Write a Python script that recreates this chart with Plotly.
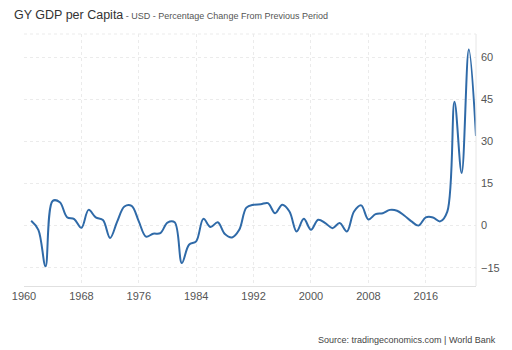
import plotly.graph_objects as go

years = list(range(1961, 2024))
values = [1.7, -1.5, -14.5, 8.8, 8.3, 3.0, 2.3, -0.8, 5.6, 2.9,
          2.0, -4.4, 1.5, 6.8, 7.0, 1.5, -3.9, -2.9, -2.7, 1.1,
          1.2, -13.3, -6.8, -5.6, 2.4, -0.5, 1.2, -3.0, -4.2, -1.5,
          6.4, 7.4, 7.6, 8.0, 4.4, 7.4, 5.0, -2.1, 2.4, -1.5,
          2.1, 0.9, -0.9, 0.9, -2.1, 5.0, 7.2, 2.2, 4.1, 4.4,
          5.6, 5.3, 3.6, 1.5, 0.0, 2.9, 2.9, 1.5, 5.0, 44.1,
          18.7, 62.7, 31.9]
x_ticks = [1960, 1968, 1976, 1984, 1992, 2000, 2008, 2016]
y_ticks = [-15, 0, 15, 30, 45, 60]

fig = go.Figure()
fig.add_trace(go.Scatter(
    x=years, y=values, mode="lines",
    line=dict(color="#2f6aa8", width=2, shape="spline", smoothing=1.0),
    hoverinfo="skip", showlegend=False))

grid = "#ebebeb"
fig.update_layout(
    width=512, height=350,
    margin=dict(l=21, r=31, t=34, b=64),
    paper_bgcolor="white", plot_bgcolor="white",
    font=dict(family="Liberation Sans, Arial, sans-serif", color="#555555"),
    title=dict(
        text="GY GDP per Capita<span style='font-size:9px;color:#555555'> - USD - Percentage Change From Previous Period</span>",
        font=dict(size=12.5, color="#333333"),
        xref="container", yref="container",
        x=14 / 512, xanchor="left", y=1 - 15 / 350, yanchor="middle"),
    xaxis=dict(
        range=[1960, 2023], tickvals=x_ticks, ticktext=[str(v) for v in x_ticks],
        showgrid=True, gridcolor=grid, griddash="dot", gridwidth=1,
        showline=True, linecolor="#e0e0e0", linewidth=1, mirror=False,
        ticks="", tickfont=dict(size=11, color="#555555"),
        zeroline=False, fixedrange=True),
    yaxis=dict(
        range=[-21.5, 68.2], tickvals=y_ticks, side="right",
        showgrid=True, gridcolor=grid, griddash="dot", gridwidth=1,
        showline=False, ticks="", ticklabelstandoff=4,
        tickfont=dict(size=11, color="#555555"),
        zeroline=False, fixedrange=True),
    shapes=[dict(type="line", xref="paper", yref="paper", x0=1, x1=1, y0=0, y1=1,
                 line=dict(color="#e6e6e6", width=1)),
            dict(type="line", xref="paper", yref="paper", x0=0, x1=1, y0=1, y1=1,
                 line=dict(color=grid, width=1, dash="dot"))],
    annotations=[dict(
        text="Source: tradingeconomics.com | World Bank",
        xref="paper", yref="paper", x=(503 - 21) / 460, y=(286 - 340) / 252,
        xanchor="right", yanchor="middle", showarrow=False,
        font=dict(size=9, color="#444444"))],
)

fig.write_html("out.html")
